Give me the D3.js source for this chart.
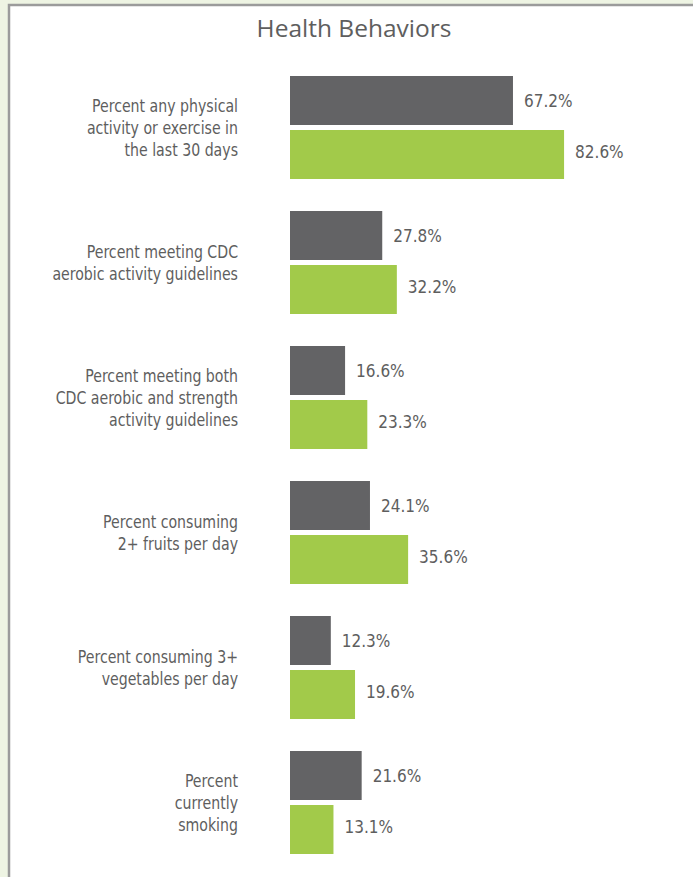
<!DOCTYPE html>
<html>
<head>
<meta charset="utf-8">
<script src="https://cdn.jsdelivr.net/npm/d3@7"></script>
<style>
  body { margin: 0; background: #eef4e3; }
</style>
</head>
<body>
<div id="chart"></div>
<script>
// dữ liệu
const categories = [
    "Percent any physical|activity or exercise in|the last 30 days",
    "Percent meeting CDC|aerobic activity guidelines",
    "Percent meeting both|CDC aerobic and strength|activity guidelines",
    "Percent consuming|2+ fruits per day",
    "Percent consuming 3+|vegetables per day",
    "Percent|currently|smoking"
];
const seriesNames = ["Series 1", "Series 2"];
const series1 = [67.2, 27.8, 16.6, 24.1, 12.3, 21.6];
const series2 = [82.6, 32.2, 23.3, 35.6, 19.6, 13.1];
const seriesColors = ["#636365", "#a2ca4a"];

const width = 693;
const height = 877;

const rows = categories.map((c, i) => ({
    category: c,
    values: [
        { key: seriesNames[0], value: series1[i] },
        { key: seriesNames[1], value: series2[i] }
    ]
}));

const svg = d3.select("#chart")
    .append("svg")
    .attr("width", width)
    .attr("height", height)
    .style("display", "block");

// khung trắng với viền xám
svg.append("rect")
    .attr("x", 9)
    .attr("y", 5)
    .attr("width", width)
    .attr("height", height)
    .attr("fill", "#ffffff")
    .attr("stroke", "#9b9b9b")
    .attr("stroke-width", 2.5);

// tiêu đề
svg.append("text")
    .attr("x", 354)
    .attr("y", 37)
    .attr("text-anchor", "middle")
    .style("font-family", "'Open Sans', 'Noto Sans', sans-serif")
    .style("font-size", "24.5px")
    .attr("fill", "#5e5e5e")
    .text("Health Behaviors");

const x0 = 290;
const x = d3.scaleLinear()
    .domain([0, 100])
    .range([x0, x0 + 331.8]);

const y = d3.scaleBand()
    .domain(categories)
    .range([76, 854])
    .paddingInner(32 / 135)
    .paddingOuter(0);

const ySub = d3.scaleBand()
    .domain(seriesNames)
    .range([0, y.bandwidth()])
    .paddingInner(5 / 54);

const color = d3.scaleOrdinal()
    .domain(seriesNames)
    .range(seriesColors);

const labelFont = "'Liberation Sans Narrow', 'DejaVu Sans Condensed', 'Roboto', sans-serif";

const groups = svg.selectAll("g.group")
    .data(rows)
    .join("g")
    .attr("class", "group")
    .attr("transform", d => `translate(0,${y(d.category)})`);

groups.selectAll("rect")
    .data(d => d.values)
    .join("rect")
    .attr("x", x(0))
    .attr("y", d => ySub(d.key))
    .attr("width", d => x(d.value) - x(0))
    .attr("height", ySub.bandwidth())
    .attr("fill", d => color(d.key));

// nhãn giá trị
groups.selectAll("text.value")
    .data(d => d.values)
    .join("text")
    .attr("class", "value")
    .attr("x", d => x(d.value) + 11)
    .attr("y", d => ySub(d.key) + ySub.bandwidth() / 2 + (d.key === seriesNames[0] ? 6 : 3.5))
    .style("font-family", labelFont)
    .style("font-size", "17px")
    .attr("fill", "#5e5e5e")
    .text(d => d.value.toFixed(1) + "%");

// nhãn danh mục (nhiều dòng), nén ngang cho giống font condensed
const lineH = 22;
groups.append("text")
    .attr("class", "cat")
    .attr("text-anchor", "end")
    .attr("transform", "translate(238,0) scale(0.925,1)")
    .style("font-family", labelFont)
    .style("font-size", "17px")
    .attr("fill", "#5e5e5e")
    .each(function (d) {
        const lines = d.category.split("|");
        const mid = y.bandwidth() / 2;
        const first = mid - (lines.length - 1) / 2 * lineH + 7;
        d3.select(this).selectAll("tspan")
            .data(lines)
            .join("tspan")
            .attr("x", 0)
            .attr("y", (l, i) => first + i * lineH)
            .text(l => l);
    });
</script>
</body>
</html>
